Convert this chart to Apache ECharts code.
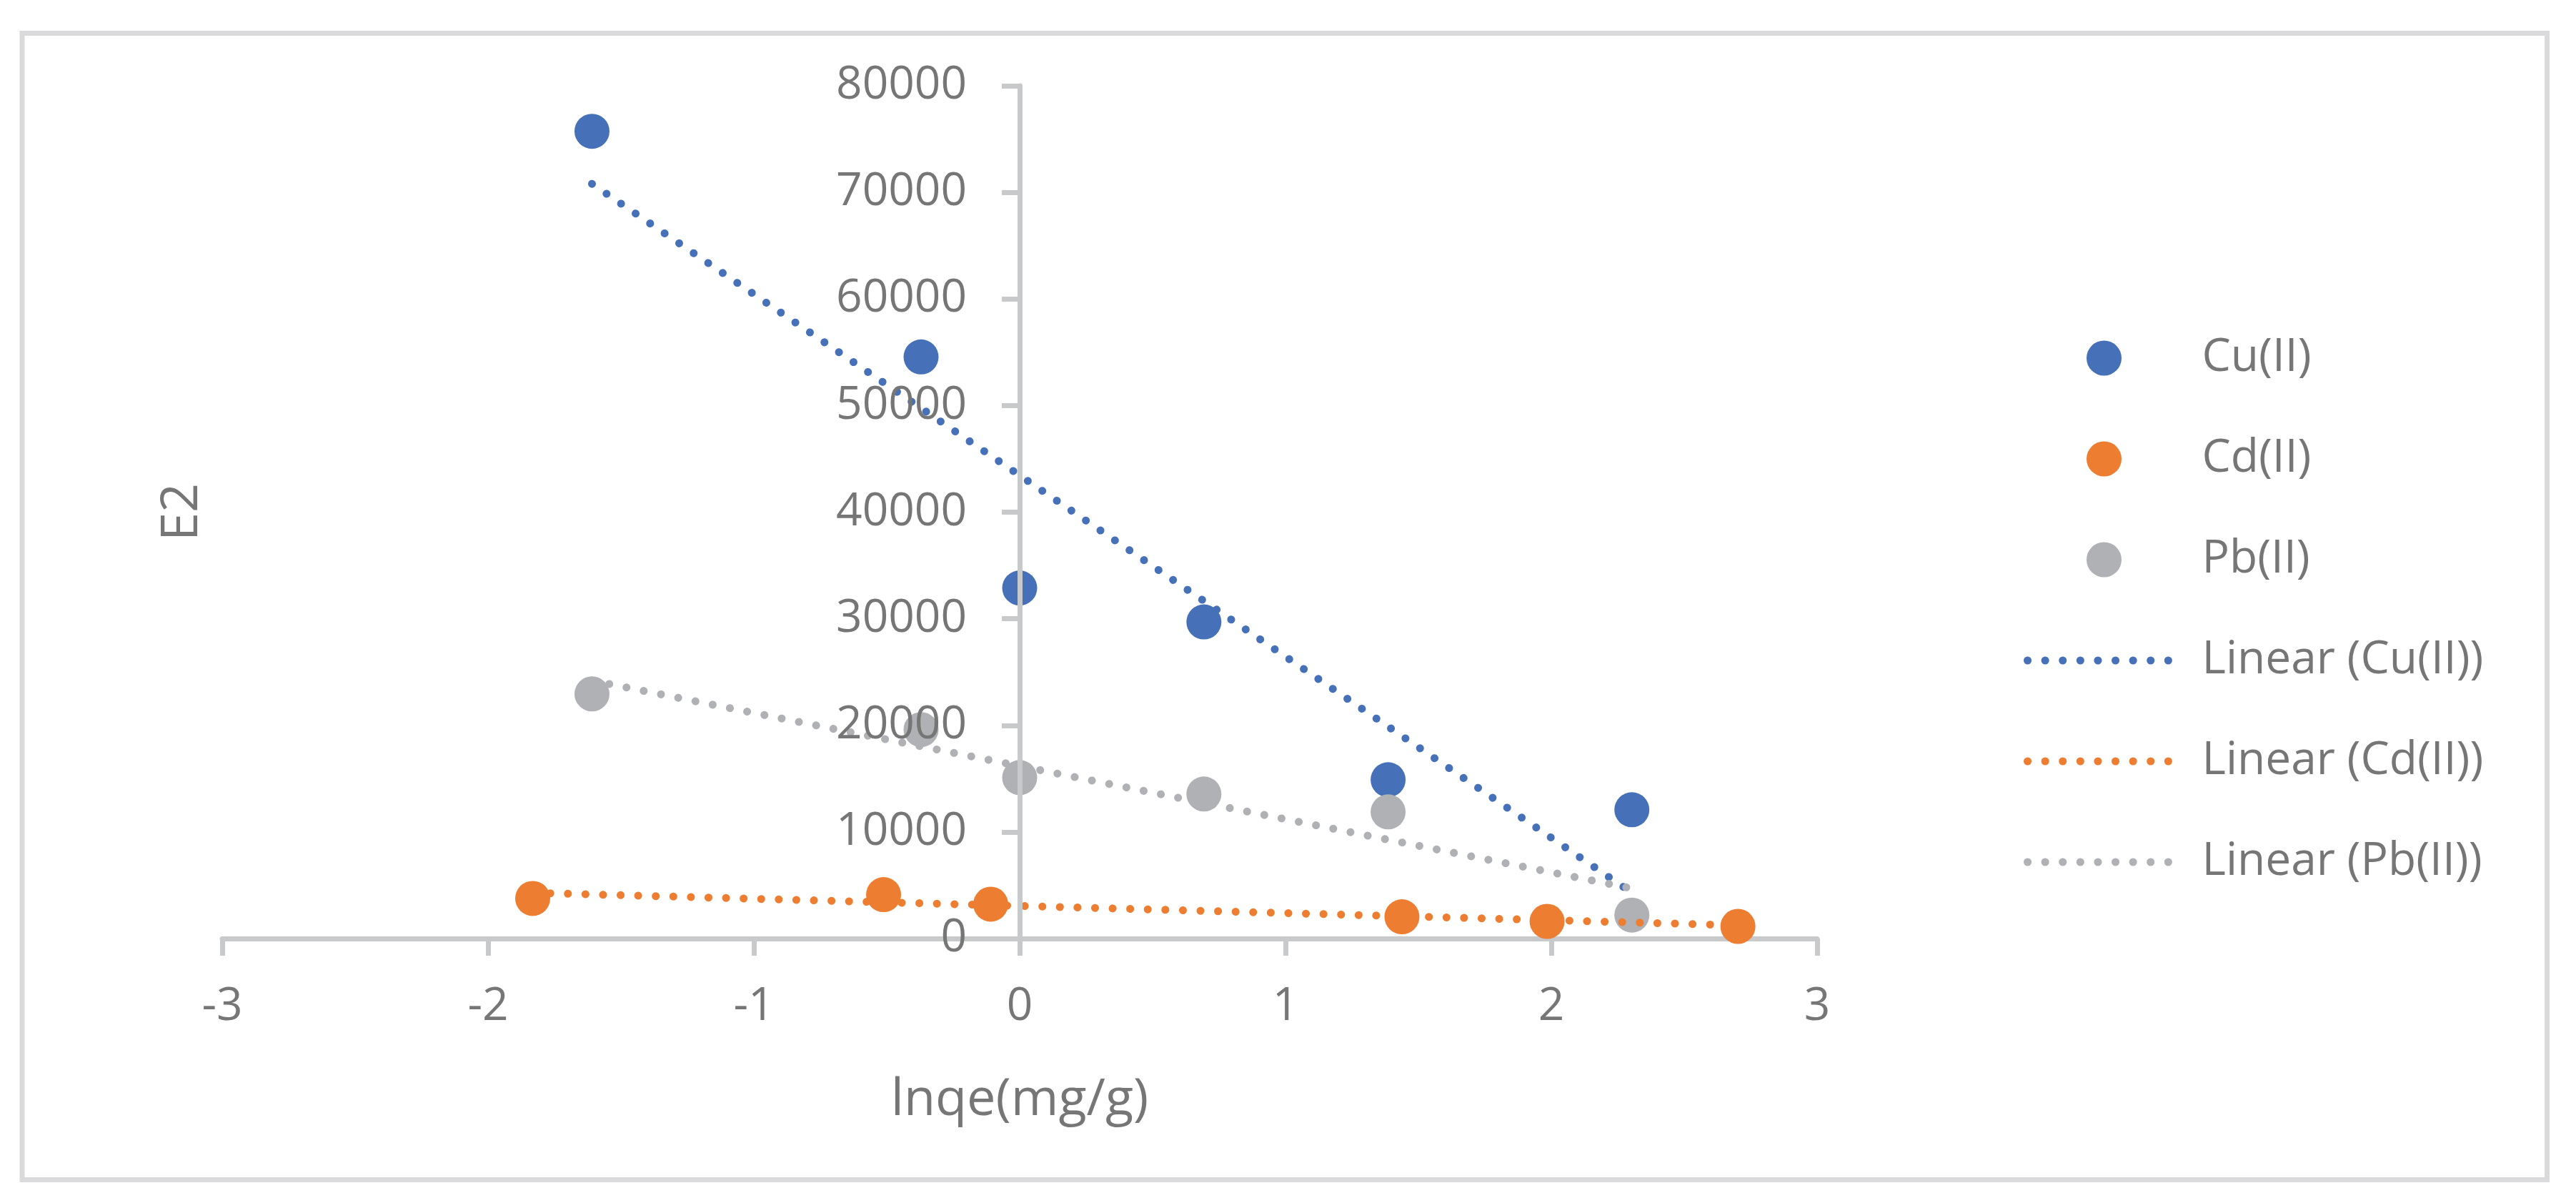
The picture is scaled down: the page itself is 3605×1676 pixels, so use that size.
<!DOCTYPE html>
<html>
<head>
<meta charset="utf-8">
<script src="https://cdn.jsdelivr.net/npm/echarts@6/dist/echarts.min.js"></script>
<style>
  html, body { margin: 0; padding: 0; background: #fff; }
  #chart { width: 3605px; height: 1676px; }
</style>
</head>
<body>
<div id="chart"></div>
<script>
// lnqe (x) and E2 (y)
const cuX = [-1.609, -0.371, 0, 0.693, 1.386, 2.303]
const cuY = [75730, 54560, 32890, 29700, 14900, 12080]
const cdX = [-1.832, -0.512, -0.109, 1.438, 1.984, 2.702]
const cdY = [3760, 4120, 3220, 2040, 1610, 1140]
const pbX = [-1.609, -0.371, 0, 0.693, 1.386, 2.303]
const pbY = [22950, 19600, 15100, 13560, 11880, 2200]

// trendline end points as drawn
const cuTrend = [[-1.609, 70800], [2.303, 4300]]
const cdTrend = [[-1.832, 4290], [2.702, 1245]]
const pbTrend = [[-1.609, 24200], [2.303, 4700]]

const xTicks = [-3, -2, -1, 0, 1, 2, 3]
const yMin = 0
const yMax = 80000
const yStep = 10000

const blue = '#4671B8'
const orange = '#ED7D31'
const gray = '#B0B1B4'
const textColor = '#767676'
const axisColor = '#C8C9CB'
const font = 'Open Sans'
const dots = [0.1, 24.5]

// plot box (px) and where x = 0 falls
const plotLeft = 311
const plotRight = 2543
const plotTop = 120
const plotBottom = 1313
const zeroX = plotLeft + (plotRight - plotLeft) * (0 - xTicks[0]) / (xTicks[xTicks.length - 1] - xTicks[0])

const pair = (xs, ys) => xs.map((x, i) => [x, ys[i]])

const scatter = (name, xs, ys, color) => ({
  name,
  type: 'scatter',
  symbol: 'circle',
  symbolSize: 49,
  itemStyle: { color, opacity: 1 },
  z: 2,
  data: pair(xs, ys)
})

const trend = (name, data, color) => ({
  name,
  type: 'line',
  symbol: 'none',
  silent: true,
  z: 3,
  itemStyle: { color },
  lineStyle: { color, width: 11, type: dots, cap: 'round' },
  data
})

const trendLegend = (name, color) => ({
  name,
  itemStyle: { opacity: 0 },
  lineStyle: { color, width: 11, type: dots, cap: 'round' }
})

const chart = echarts.init(document.getElementById('chart'))

chart.setOption({
  backgroundColor: '#fff',
  animation: false,
  textStyle: { fontFamily: font },
  graphic: [{
    type: 'rect',
    shape: { x: 31, y: 46.5, width: 3533.5, height: 1604 },
    style: { fill: 'none', stroke: '#DADADC', lineWidth: 7 },
    silent: true
  }],
  grid: [
    { left: plotLeft, right: 3605 - plotRight, top: plotTop, bottom: 1676 - plotBottom, containLabel: false, outerBoundsMode: 'none' },
    // thin grid that only carries the value axis drawn at x = 0
    { left: zeroX, width: 1, top: plotTop, bottom: 1676 - plotBottom, containLabel: false, outerBoundsMode: 'none' }
  ],
  xAxis: [{
    type: 'value',
    gridIndex: 0,
    min: xTicks[0],
    max: xTicks[xTicks.length - 1],
    interval: 1,
    name: 'lnqe(mg/g)',
    nameLocation: 'middle',
    nameGap: 190,
    nameTextStyle: { fontSize: 72, color: textColor, fontFamily: font },
    splitLine: { show: false },
    axisLine: { onZero: false, lineStyle: { color: axisColor, width: 7 } },
    axisTick: { show: true, length: 24, lineStyle: { color: axisColor, width: 7 } },
    axisLabel: { fontSize: 64, color: textColor, margin: 64, fontFamily: font }
  }, {
    type: 'value',
    gridIndex: 1,
    show: false
  }],
  yAxis: [{
    type: 'value',
    gridIndex: 0,
    min: yMin,
    max: yMax,
    interval: yStep,
    show: false,
    splitLine: { show: false }
  }, {
    type: 'value',
    gridIndex: 1,
    min: yMin,
    max: yMax,
    interval: yStep,
    z: 5,
    name: 'E2',
    nameLocation: 'middle',
    nameRotate: 90,
    nameGap: 1136,
    nameTextStyle: { fontSize: 72, color: textColor, fontFamily: font },
    splitLine: { show: false },
    axisLine: { show: true, onZero: false, lineStyle: { color: axisColor, width: 7 } },
    axisTick: { show: true, length: 25, lineStyle: { color: axisColor, width: 7 } },
    axisLabel: {
      fontSize: 64, color: textColor, margin: 74, fontFamily: font,
      formatter: v => String(v)
    }
  }],
  legend: {
    orient: 'vertical',
    left: 2827,
    top: 464,
    itemWidth: 214,
    itemHeight: 49,
    itemGap: 77,
    textStyle: { fontSize: 64, color: textColor, lineHeight: 64, padding: [0, 0, 0, 25], fontFamily: font },
    data: [
      { name: 'Cu(II)', icon: 'circle' },
      { name: 'Cd(II)', icon: 'circle' },
      { name: 'Pb(II)', icon: 'circle' },
      trendLegend('Linear (Cu(II))', blue),
      trendLegend('Linear (Cd(II))', orange),
      trendLegend('Linear (Pb(II))', gray)
    ]
  },
  series: [
    scatter('Cu(II)', cuX, cuY, blue),
    scatter('Cd(II)', cdX, cdY, orange),
    scatter('Pb(II)', pbX, pbY, gray),
    trend('Linear (Cu(II))', cuTrend, blue),
    trend('Linear (Cd(II))', cdTrend, orange),
    trend('Linear (Pb(II))', pbTrend, gray)
  ]
})
</script>
</body>
</html>
